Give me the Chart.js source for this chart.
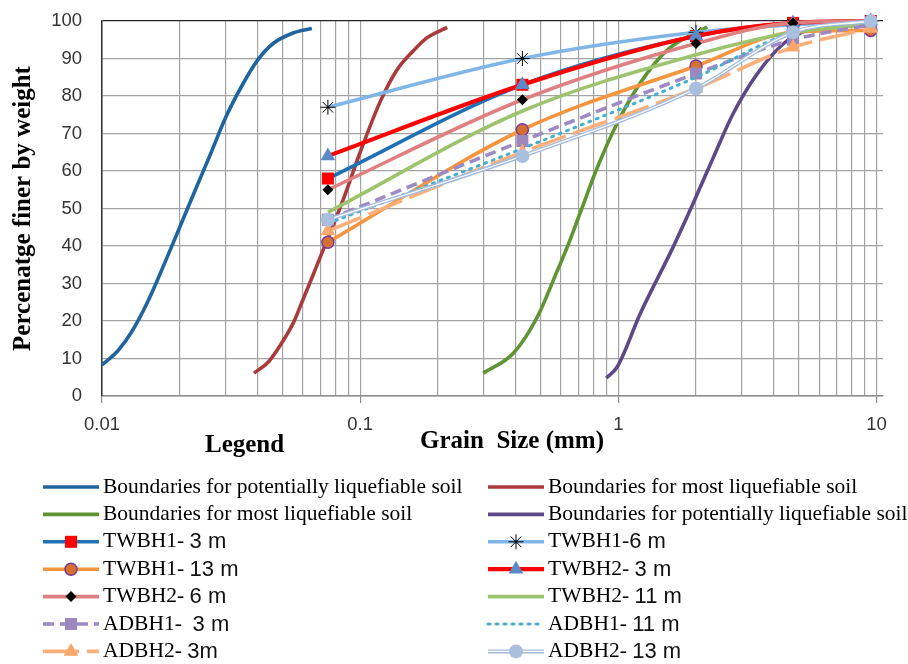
<!DOCTYPE html>
<html><head><meta charset="utf-8">
<script src="https://cdn.jsdelivr.net/npm/chart.js@4.4.1/dist/chart.umd.min.js"></script>
<style>html,body{margin:0;padding:0;background:#fff;}#wrap{width:908px;height:664px;}</style>
</head><body><div id="wrap"><canvas id="c" width="908" height="664"></canvas></div>
<script>
// ---------- DATA ----------
const sieveSizes = [0.075, 0.425, 2, 4.75, 9.5];
const twbh1_3m  = [58, 83, 96, 99.5, 100];
const twbh1_6m  = [77, 90, 97, 99, 100];
const twbh1_13m = [41, 71, 88, 97, 97.5];
const twbh2_3m  = [64, 83, 96, 99.5, 100];
const twbh2_6m  = [55, 79, 94, 99.5, 100];
const twbh2_11m = [49, 76, 91, 97, 99];
const adbh1_3m  = [47, 68, 86, 95, 99];
const adbh1_11m = [46, 66, 85, 97, 100];
const adbh2_3m  = [44, 65, 82, 93, 98];
const adbh2_13m = [47, 64, 82, 97, 100];

const potLeftX  = [0.01, 0.0115, 0.013, 0.015, 0.0175, 0.02, 0.023, 0.0265, 0.03, 0.035, 0.04, 0.046, 0.055, 0.065];
const potLeftY  = [8.3, 12, 17, 25, 35.5, 45, 55, 65, 74, 83, 89.5, 94, 96.8, 98];
const mostLeftX = [0.0388, 0.044, 0.049, 0.0551, 0.0603, 0.0659, 0.0754, 0.0861, 0.1, 0.1196, 0.139, 0.1604, 0.1813, 0.2173];
const mostLeftY = [6.1, 9, 13.5, 19.5, 26, 32.5, 42.5, 52.5, 65, 78.5, 87, 92, 95.5, 98.3];
const mostRightX = [0.300, 0.392, 0.485, 0.581, 0.634, 0.713, 0.830, 0.991, 1.217, 1.55, 2.21];
const mostRightY = [6.1, 11.4, 21, 33.5, 39.7, 49, 61, 72.8, 83.5, 92.3, 98.4];
const potRightX = [0.898, 0.991, 1.217, 1.63, 1.95, 2.33, 2.79, 3.46, 4.37, 5.41, 8.43];
const potRightY = [4.8, 7.8, 22, 39.7, 51.4, 63.5, 75.4, 86, 94, 97.6, 99.4];

const xMajorTicks = [0.01, 0.1, 1, 10];
const xTickLabels = ['0.01', '0.1', '1', '10'];
const xMinorMultipliers = [2, 3, 4, 5, 6, 7, 8, 9];
const yTitle = 'Percenatge finer by weight';
const xTitle = 'Grain  Size (mm)';
const legendTitle = 'Legend';

// ---------- DATASETS ----------
function pts(xs, ys) { return xs.map((x, i) => ({ x: x, y: ys[i] })); }

const boundary = (label, xs, ys, color) => ({
  label, data: pts(xs, ys), borderColor: color, backgroundColor: color,
  borderWidth: 3.6, pointRadius: 0, legend: true
});
const sample = (label, ys, color, opts) => Object.assign({
  label, data: pts(sieveSizes, ys), borderColor: color, backgroundColor: color,
  borderWidth: 3.6, pointRadius: 0, legend: true
}, opts || {});

const datasets = [
  boundary('Boundaries for potentially liquefiable soil', potLeftX, potLeftY, '#20649f'),
  boundary('Boundaries for most liquefiable soil', mostLeftX, mostLeftY, '#a93b3b'),
  boundary('Boundaries for most liquefiable soil', mostRightX, mostRightY, '#5e9433'),
  boundary('Boundaries for potentially liquefiable soil', potRightX, potRightY, '#5e4886'),
  sample('TWBH1- 3 m', twbh1_3m, '#2070b4', { pointStyle: 'rect', pointRadius: 8.5, pointBackgroundColor: '#ff0000', pointBorderColor: '#ff0000', pointBorderWidth: 0 }),
  sample('TWBH1-6 m', twbh1_6m, '#80b6e6', { pointStyle: 'star', pointRadius: 7.5, pointBackgroundColor: '#000', pointBorderColor: '#000', pointBorderWidth: 1 }),
  sample('TWBH1- 13 m', twbh1_13m, '#f7953f', { pointStyle: 'circle', pointRadius: 6, pointBackgroundColor: '#d5712c', pointBorderColor: '#7a3aa0', pointBorderWidth: 1.5 }),
  sample('TWBH2- 3 m', twbh2_3m, '#ff0000', { borderWidth: 4.2, pointStyle: 'triangle', pointRadius: 8.5, pointBackgroundColor: '#5b8bc7', pointBorderColor: '#5b8bc7', pointBorderWidth: 0 }),
  sample('TWBH2- 6 m', twbh2_6m, '#e07f7f', { pointStyle: 'rectRot', pointRadius: 5.5, pointBackgroundColor: '#000', pointBorderColor: '#000', pointBorderWidth: 0 }),
  sample('TWBH2- 11 m', twbh2_11m, '#9cc46f', {}),
  sample('ADBH1-  3 m', adbh1_3m, '#9d8ac2', { borderDash: [11, 6], pointStyle: 'rect', pointRadius: 8.5, pointBackgroundColor: '#9c88bf', pointBorderColor: '#9c88bf', pointBorderWidth: 0 }),
  sample('ADBH1- 11 m', adbh1_11m, '#46b0cc', { borderWidth: 3, borderDash: [2, 6], borderCapStyle: 'round' }),
  sample('ADBH2- 3m', adbh2_3m, '#fbb07c', { borderDash: [36, 8], pointStyle: 'triangle', pointRadius: 8.5, pointBackgroundColor: '#fba66a', pointBorderColor: '#fba66a', pointBorderWidth: 0 }),
  sample('ADBH2- 13 m', adbh2_13m, '#a3bcdd', { borderWidth: 4, doubleLine: true,
    legendPoint: { pointStyle: 'circle', radius: 7, bg: '#a8bfde', bc: '#a8bfde', bw: 0 } }),
  // inner white stroke of the double line and the markers of ADBH2- 13 m
  { label: '_inner', data: pts(sieveSizes, adbh2_13m), borderColor: '#ffffff', borderWidth: 1.3, pointRadius: 0, legend: false },
  { label: '_points', data: pts(sieveSizes, adbh2_13m), showLine: false, pointStyle: 'circle', pointRadius: 7,
    pointBackgroundColor: '#a8bfde', pointBorderColor: '#a8bfde', pointBorderWidth: 0, legend: false }
];
const N = datasets.length;
datasets.forEach((d, i) => {
  d.order = N - i;
  d.cubicInterpolationMode = 'monotone';
  d.fill = false;
  d.clip = 10;
  d.pointHoverRadius = d.pointRadius;
});

// ---------- LEGEND / TEXT PLUGIN ----------
function drawMarker(ctx, style, r, bg, bc, bw, x, y) {
  ctx.save();
  ctx.setLineDash([]);
  ctx.fillStyle = bg; ctx.strokeStyle = bc; ctx.lineWidth = bw || 1;
  if (Chart.helpers && Chart.helpers.drawPoint) {
    Chart.helpers.drawPoint(ctx, { pointStyle: style, radius: r, borderWidth: bw, rotation: 0 }, x, y);
  } else {
    ctx.beginPath();
    if (style === 'circle') ctx.arc(x, y, r, 0, Math.PI * 2);
    else if (style === 'rect') { const s = r * Math.SQRT1_2; ctx.rect(x - s, y - s, 2 * s, 2 * s); }
    else if (style === 'rectRot') { ctx.moveTo(x, y - r); ctx.lineTo(x + r, y); ctx.lineTo(x, y + r); ctx.lineTo(x - r, y); ctx.closePath(); }
    else if (style === 'triangle') { ctx.moveTo(x, y - r); ctx.lineTo(x + r * 0.866, y + r / 2); ctx.lineTo(x - r * 0.866, y + r / 2); ctx.closePath(); }
    if (style === 'star') {
      for (let k = 0; k < 4; k++) { const a = k * Math.PI / 4; ctx.moveTo(x - Math.cos(a) * r, y - Math.sin(a) * r); ctx.lineTo(x + Math.cos(a) * r, y + Math.sin(a) * r); }
      ctx.stroke();
    } else { ctx.fill(); if (bw > 0) ctx.stroke(); }
  }
  ctx.restore();
}

const textPlugin = {
  id: 'textPlugin',
  afterDraw(chart) {
    const ctx = chart.ctx;
    ctx.save();
    ctx.fillStyle = '#000';
    ctx.textBaseline = 'middle';
    ctx.textAlign = 'left';
    ctx.font = 'bold 25px "Liberation Serif"';
    ctx.fillText(legendTitle, 205, 446);
    ctx.fillText(xTitle, 420, 442);

    const serif = '21.5px "Liberation Serif"';
    const sans = '22px "Liberation Sans"';
    let idx = 0;
    chart.data.datasets.forEach(ds => {
      if (!ds.legend) return;
      const col = idx % 2, row = Math.floor(idx / 2);
      idx++;
      const x0 = col ? 488 : 43, x1 = col ? 544 : 99;
      const y = 487 + row * 27.4;
      // sample line
      ctx.save();
      ctx.strokeStyle = ds.borderColor;
      ctx.lineWidth = ds.borderWidth;
      ctx.setLineDash(ds.borderDash || []);
      ctx.lineCap = ds.borderCapStyle || 'butt';
      ctx.beginPath(); ctx.moveTo(x0, y); ctx.lineTo(x1, y); ctx.stroke();
      if (ds.doubleLine) {
        ctx.strokeStyle = '#fff'; ctx.lineWidth = 1.3;
        ctx.beginPath(); ctx.moveTo(x0, y); ctx.lineTo(x1, y); ctx.stroke();
      }
      ctx.restore();
      // marker
      const lp = ds.legendPoint || (ds.pointRadius > 0 ? { pointStyle: ds.pointStyle, radius: ds.pointRadius, bg: ds.pointBackgroundColor, bc: ds.pointBorderColor, bw: ds.pointBorderWidth } : null);
      if (lp) drawMarker(ctx, lp.pointStyle, lp.radius, lp.bg, lp.bc, lp.bw, (x0 + x1) / 2, y);
      // text
      const tx = x1 + 4;
      ctx.fillStyle = '#000';
      const lab = ds.label;
      if (lab.indexOf('Boundaries') === 0) {
        ctx.font = serif; ctx.fillText(lab, tx, y);
      } else {
        const h = lab.indexOf('-');
        const pre = lab.slice(0, h + 1);
        const rest = lab.slice(h + 1);
        const lead = rest.match(/^\s*/)[0].length;
        ctx.font = serif; ctx.fillText(pre, tx, y);
        let w = ctx.measureText(pre).width + lead * ctx.measureText(' ').width;
        ctx.font = sans; ctx.fillStyle = '#111';
        ctx.fillText(rest.trim(), tx + w, y + 0.5);
      }
    });
    ctx.restore();
  }
};

// ---------- CHART ----------
const gridGray = '#a3a3a3';
new Chart(document.getElementById('c'), {
  type: 'line',
  data: { datasets },
  options: {
    responsive: false,
    animation: false,
    devicePixelRatio: 1,
    events: [],
    layout: { padding: { left: 0, top: 21, right: 25, bottom: 228 } },
    plugins: { legend: { display: false }, tooltip: { enabled: false } },
    scales: {
      x: {
        type: 'logarithmic',
        min: 0.01, max: 10.6,
        afterBuildTicks(scale) {
          const t = [];
          xMajorTicks.forEach((d, i) => {
            t.push({ value: d, major: true });
            if (i < xMajorTicks.length - 1) xMinorMultipliers.forEach(m => t.push({ value: m * d, major: false }));
          });
          scale.ticks = t;
        },
        afterFit(scale) { scale.height = 40; scale.paddingLeft = 2; scale.paddingRight = 2; },
        ticks: {
          autoSkip: false, maxRotation: 0, minRotation: 0, padding: 11,
          font: { family: '"Liberation Sans"', size: 18.5 }, color: '#333',
          callback(value) {
            const k = xMajorTicks.findIndex(v => Math.abs(v - value) < v * 1e-6);
            return k >= 0 ? xTickLabels[k] : '';
          }
        },
        grid: {
          color: gridGray, lineWidth: 1.2, tickLength: 7,
          tickColor: (c) => (c.tick && xMajorTicks.some(v => Math.abs(v - c.tick.value) < v * 1e-6)) ? '#8c8c8c' : 'rgba(0,0,0,0)'
        },
        border: { color: '#8c8c8c', width: 1.5 }
      },
      y: {
        type: 'linear', min: 0, max: 100,
        afterFit(scale) { scale.width = 102; scale.paddingTop = 4; scale.paddingBottom = 4; },
        ticks: { stepSize: 10, padding: 20, font: { family: '"Liberation Sans"', size: 18.5 }, color: '#333' },
        grid: {
          drawTicks: false, lineWidth: 1.2,
          color: (c) => (c.tick && c.tick.value === 100) ? '#222' : gridGray
        },
        border: { color: '#333', width: 1.5 },
        title: { display: true, text: yTitle, color: '#000', padding: { top: 9, bottom: 0 },
          font: { family: '"Liberation Serif"', size: 25, weight: 'bold' } }
      }
    }
  },
  plugins: [textPlugin]
});
</script></body></html>
